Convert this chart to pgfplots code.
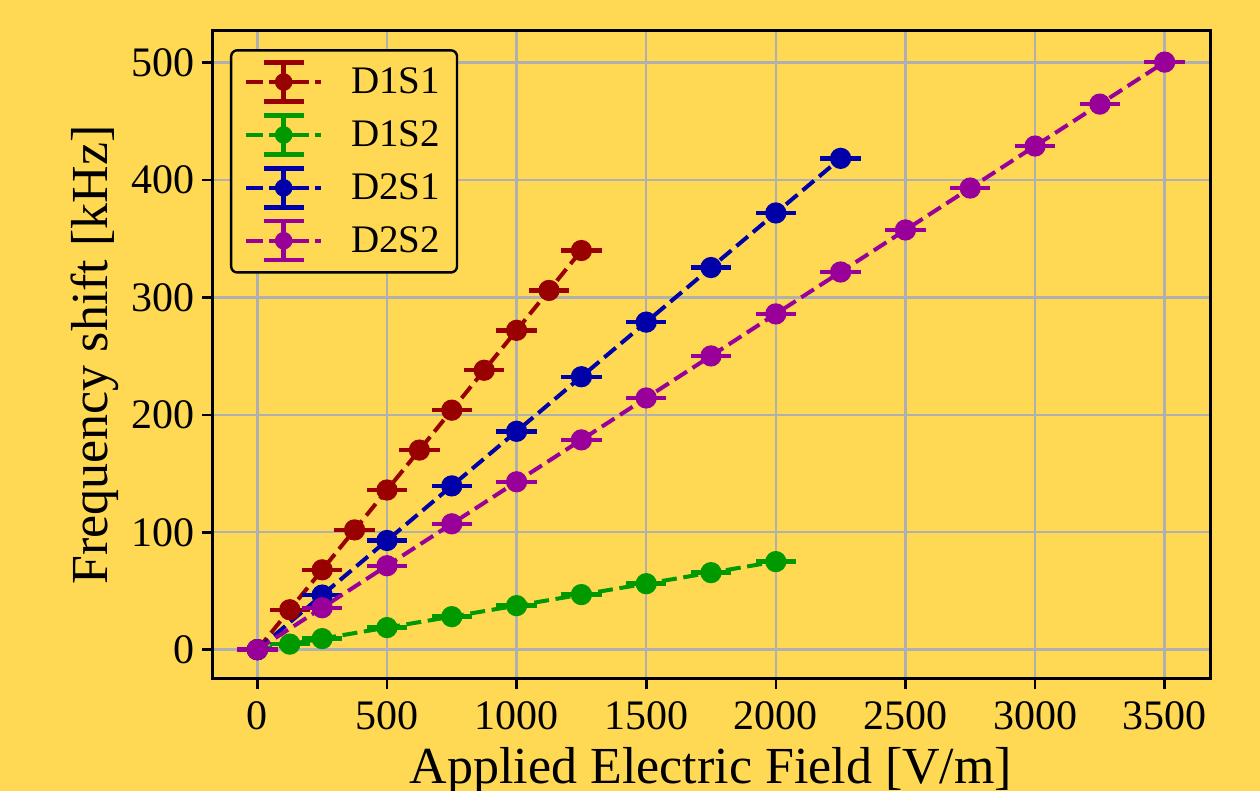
\documentclass[border=0pt]{standalone}
\usepackage{pgfplots}
\pgfplotsset{compat=1.18}
\usepackage{fontspec}
\setmainfont{Liberation Serif}
\definecolor{bgy}{HTML}{FFD954}
\definecolor{cred}{HTML}{990000}
\definecolor{cgreen}{HTML}{009A00}
\definecolor{cblue}{HTML}{0000A8}
\definecolor{cpurple}{HTML}{990099}
\definecolor{gridc}{HTML}{B0B0B0}
\newcommand{\legimg}[1]{%
  \draw[draw=#1, line width=2bp, dash pattern=on 8.5bp off 3bp] (0bp,0bp) -- (37.5bp,0bp);
  \draw[draw=#1, solid, line width=2.2bp] (11.5bp,0bp) -- (26bp,0bp);
  \draw[draw=#1, solid, line width=2.2bp] (18.75bp,-9.75bp) -- (18.75bp,9.75bp);
  \draw[draw=#1, solid, line width=2.2bp] (8.75bp,9.75bp) -- (28.75bp,9.75bp);
  \draw[draw=#1, solid, line width=2.2bp] (8.75bp,-9.75bp) -- (28.75bp,-9.75bp);
  \path[fill=#1, draw=none, fill opacity=1] (18.75bp,0bp) circle (4.4bp);
}
\begin{document}
\begin{tikzpicture}
\fill[bgy] (0,0) rectangle (630bp,395.5bp);
\begin{axis}[
  at={(106bp,56bp)}, anchor=south west,
  width=499bp, height=324bp, scale only axis,
  xmin=-175, xmax=3675, ymin=-25, ymax=527,
  xtick={0,500,...,3500}, ytick={0,100,...,500},
  scaled ticks=false,
  /pgf/number format/assume math mode=true,
  /pgf/number format/set thousands separator={},
  tick align=outside, major tick length=5bp,
  tick style={line width=1.3bp, black},
  xtick pos=bottom, ytick pos=left,
  axis line style={line width=1.5bp},
  grid=major, major grid style={gridc, line width=1.2bp},
  axis background/.style={fill=bgy},
  ticklabel style={font=\fontsize{21bp}{25bp}\selectfont},
  xticklabel style={anchor=north, inner sep=0pt, yshift=-6bp},
  yticklabel style={anchor=east, inner sep=0pt, xshift=-3.5bp},
  xlabel={Applied Electric Field [V/m]},
  ylabel={Frequency shift [kHz]},
  label style={font=\fontsize{26bp}{30bp}\selectfont},
  xlabel style={at={(axis description cs:0.5,-0.16204)}, anchor=base, inner sep=0pt},
  ylabel style={at={(axis description cs:-0.1052,0.5)}, anchor=base, inner sep=0pt, rotate=0},
  legend style={at={(axis description cs:0.018,0.972)}, anchor=north west,
    fill=bgy, draw=black, line width=1.2bp, rounded corners=3bp,
    font=\fontsize{19.5bp}{23bp}\selectfont, inner xsep=6.5bp, inner ysep=5bp,
    row sep=4.75bp, column sep=12bp},
  legend cell align=left,
  every axis plot/.append style={line width=2bp, dash pattern=on 7.5bp off 3.3bp,
    mark=*, mark size=4.3bp, mark options={solid},
    error bars/x dir=both, error bars/x explicit, error bars/error mark=none,
    error bars/error bar style={line width=2.2bp, solid}},
]
\addplot[cred, legend image code/.code={\legimg{cred}}] table[x=x, y=y, x error=e] {
x y e
0 0 78
125 34 78
250 68 78
375 102 78
500 136 78
625 170 78
750 204 78
875 238 78
1000 272 78
1125 306 78
1250 340 78
};
\addlegendentry{D1S1\hspace{4.5bp}}
\addplot[cgreen, legend image code/.code={\legimg{cgreen}}] table[x=x, y=y, x error=e] {
x y e
0 0 78
125 4.7 78
250 9.4 78
500 18.8 78
750 28.1 78
1000 37.5 78
1250 46.9 78
1500 56.2 78
1750 65.6 78
2000 75 78
};
\addlegendentry{D1S2\hspace{4.5bp}}
\addplot[cblue, legend image code/.code={\legimg{cblue}}] table[x=x, y=y, x error=e] {
x y e
0 0 78
250 46.5 78
500 93 78
750 139.5 78
1000 186 78
1250 232.5 78
1500 279 78
1750 325.5 78
2000 372 78
2250 418.5 78
};
\addlegendentry{D2S1\hspace{4.5bp}}
\addplot[cpurple, legend image code/.code={\legimg{cpurple}}] table[x=x, y=y, x error=e] {
x y e
0 0 78
250 35.7 78
500 71.5 78
750 107.2 78
1000 143 78
1250 178.7 78
1500 214.4 78
1750 250.2 78
2000 286 78
2250 321.7 78
2500 357.5 78
2750 393.2 78
3000 429 78
3250 464.7 78
3500 500.5 78
};
\addlegendentry{D2S2\hspace{4.5bp}}
\end{axis}
\pgfresetboundingbox
\useasboundingbox (0,0) rectangle (630bp,395.5bp);
\end{tikzpicture}
\end{document}
